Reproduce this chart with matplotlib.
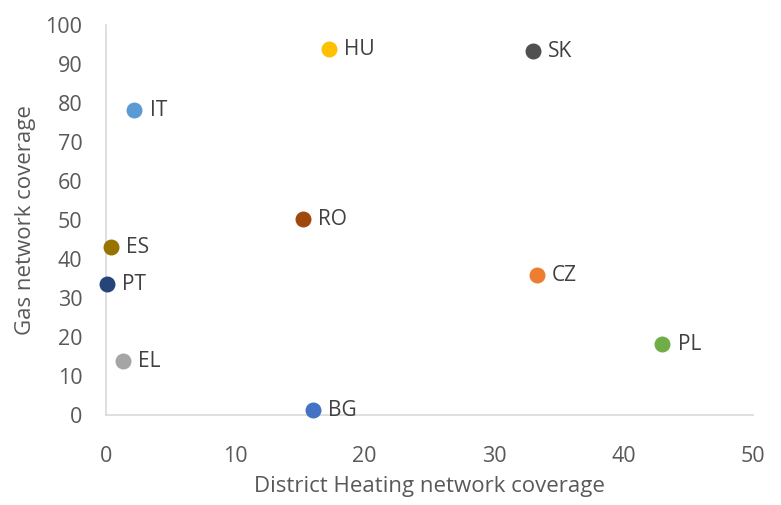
import matplotlib.pyplot as plt

countries = ["HU", "SK", "IT", "RO", "ES", "CZ", "PT", "PL", "EL", "BG"]
dh_cover = [17.2, 33.0, 2.2, 15.2, 0.4, 33.3, 0.05, 43.0, 1.3, 16.0]
gas_cover = [93.8, 93.3, 78.2, 50.3, 43.1, 35.9, 33.6, 18.2, 13.8, 1.3]
colors = ["#FFC000", "#505050", "#5B9BD5", "#9E480E", "#997300",
          "#ED7D31", "#264478", "#70AD47", "#A5A5A5", "#4472C4"]

plt.rcParams['font.family'] = ['Open Sans', 'DejaVu Sans']

fig = plt.figure(figsize=(7.81, 5.05), dpi=100)
ax = fig.add_axes([0.1357, 0.178, 0.8283, 0.772])

for name, x, y, c in zip(countries, dh_cover, gas_cover, colors):
    ax.scatter(x, y, s=110, color=c, zorder=3, clip_on=False)
    ax.annotate(name, (x, y), xytext=(11, 0), textcoords="offset points",
                va="center", ha="left", fontsize=15, color="#404040")

ax.set_xlim(0, 50)
ax.set_ylim(0, 100)
ax.set_xticks(range(0, 51, 10))
ax.set_yticks(range(0, 101, 10))

for side in ["top", "right"]:
    ax.spines[side].set_visible(False)
for side in ["left", "bottom"]:
    ax.spines[side].set_color("#D9D9D9")
    ax.spines[side].set_linewidth(1.2)

ax.tick_params(axis="x", length=0, labelsize=15.5, colors="#595959", pad=22)
ax.tick_params(axis="y", length=0, labelsize=15.5, colors="#595959", pad=17)
ax.set_xlabel("District Heating network coverage", fontsize=16, color="#595959", labelpad=7)
ax.set_ylabel("Gas network coverage", fontsize=16, color="#595959", labelpad=7)

fig.savefig("out.png", dpi=100)
